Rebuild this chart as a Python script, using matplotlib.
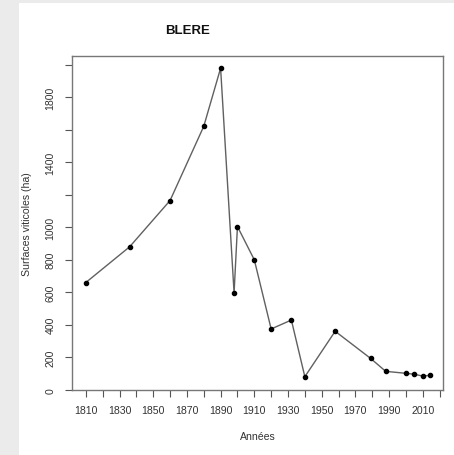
import matplotlib
matplotlib.use('Agg')
import matplotlib.pyplot as plt
from matplotlib.patches import Rectangle
import numpy as np

plt.rcParams['font.family'] = ['Liberation Sans', 'DejaVu Sans']

# data
years = [1810, 1836, 1860, 1880, 1890, 1898, 1900, 1910, 1920, 1932,
         1940, 1958, 1979, 1988, 2000, 2005, 2010, 2014]
surfaces = [660, 880, 1165, 1622, 1980, 596, 1005, 800, 374, 429,
            80, 360, 193, 113, 101, 95, 84, 88]

xticks = list(range(1810, 2021, 10))
xlabels = [str(y) if (y - 1810) % 20 == 0 else '' for y in xticks]
yticks = list(range(0, 2001, 200))
ylabels = ['0', '200', '400', '600', '800', '1000', '', '1400', '', '1800', '']

W, H = 454, 456
fig = plt.figure(figsize=(W / 100, H / 100), dpi=100, facecolor='#ebebeb')
fig.patches.append(Rectangle((19 / W, 0), 1 - 19 / W, 1 - 4 / H,
                             transform=fig.transFigure, facecolor='white',
                             edgecolor='none', zorder=-10))

# axes box in pixels: left 72, right 443, top 56.7, bottom 390.7
ax = fig.add_axes([72 / W, (H - 390.7) / H, (443 - 72) / W, (390.7 - 56.7) / H])
ax.set_facecolor('white')

ax.plot(years, surfaces, color='#606060', lw=1.0, zorder=2)
ax.plot(years, surfaces, 'o', color='black', ms=3.0, zorder=3)

ax.set_xlim(1801.8, 2022.0)
ax.set_ylim(0, 2057)

ax.set_xticks(xticks)
ax.set_xticklabels(xlabels)
ax.set_yticks(yticks)
ax.set_yticklabels(ylabels, rotation=90, va='center')

for s in ax.spines.values():
    s.set_color('#777777')
    s.set_linewidth(1.0)
ax.tick_params(axis='both', direction='out', length=5, width=0.8,
               color='#555555', labelsize=7.6, labelcolor='#333333')
ax.tick_params(axis='x', pad=6.3)
ax.tick_params(axis='y', pad=6.8)

fig.text(188 / W, 1 - 30.7 / H, 'BLERE', ha='center', va='center',
         fontsize=9.5, fontweight='bold', color='#111111')
fig.text(257.5 / W, 1 - 436.7 / H, 'Années', ha='center', va='center',
         fontsize=7.6, color='#333333')
fig.text(27 / W, 1 - 223.7 / H, 'Surfaces viticoles (ha)', ha='center',
         va='center', rotation=90, fontsize=7.6, color='#333333')

fig.savefig('out.png', dpi=100, facecolor=fig.get_facecolor())
